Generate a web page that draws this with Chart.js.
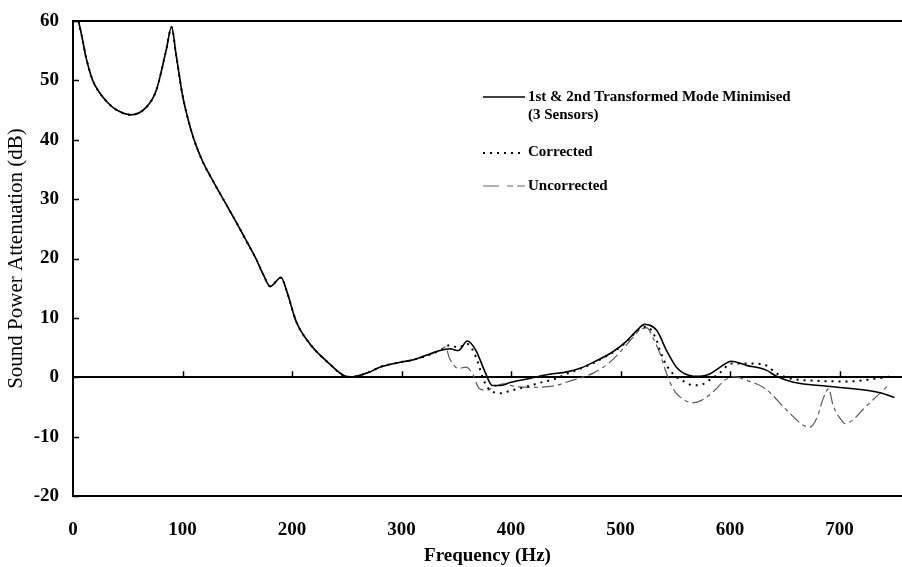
<!DOCTYPE html>
<html>
<head>
<meta charset="utf-8">
<script src="https://cdn.jsdelivr.net/npm/chart.js@4.4.1/dist/chart.umd.min.js"></script>
<style>
  html, body { margin: 0; padding: 0; background: #fff; }
  #wrap { width: 902px; height: 567px; }
</style>
</head>
<body>
<div id="wrap"><canvas id="attnChart" width="902" height="567"></canvas></div>
<script>
// shared part of all three curves (0 - 335 Hz)
const lowFreq = [5, 8, 12, 18, 24, 32, 40, 53, 67, 76, 85, 90, 94, 100, 105, 110, 118, 128, 139, 150, 160, 167, 174, 180, 190, 195, 204, 216, 234, 247, 254, 271, 280, 301, 310, 335];
const lowVals = [60, 57.5, 53.8, 50, 48, 46.2, 45, 44.2, 45.5, 48.3, 55, 59, 54.5, 47.5, 43.5, 40.3, 36.5, 33, 29.4, 25.8, 22.4, 20, 17.2, 15.3, 16.8, 14.6, 9.3, 5.7, 2.3, 0.3, 0.05, 0.9, 1.7, 2.6, 2.9, 4.5];

// 1st & 2nd transformed mode minimised (3 sensors)
const solidFreq = [344, 352, 360, 368, 376, 383, 390, 399, 417, 435, 451, 463, 475, 493, 505, 515, 522, 533, 542, 551, 563, 572, 581, 591, 601, 615, 633, 642, 657, 694, 737, 750];
const solidVals = [4.8, 4.5, 6.1, 4.5, 1.0, -1.4, -1.4, -0.9, -0.2, 0.5, 0.9, 1.5, 2.5, 4.3, 6.0, 7.9, 8.9, 7.9, 4.5, 1.7, 0.3, 0.15, 0.5, 1.7, 2.7, 2.0, 1.2, 0.2, -0.8, -1.6, -2.6, -3.4];

// corrected
const corrFreq = [344, 352, 360, 368, 374, 378, 384, 390, 399, 414, 429, 440, 451, 463, 475, 493, 505, 517, 524, 533, 536, 542, 551, 559, 566, 572, 581, 591, 601, 621, 633, 642, 655, 679, 709, 734, 749];
const corrVals = [5.4, 5.0, 5.6, 3.4, 0, -1.6, -2.5, -2.7, -2.3, -1.6, -0.8, -0.3, 0.6, 1.4, 2.4, 4.2, 5.9, 8.1, 8.5, 6.2, 4.5, 2.0, 0.05, -0.8, -1.35, -1.35, -0.5, 0.8, 2.3, 2.3, 2.0, 0.7, -0.2, -0.6, -0.7, -0.2, 0.2];

// uncorrected
const uncFreq = [340, 344, 352, 359, 365, 371, 378, 385, 393, 405, 419, 442, 451, 475, 490, 508, 518, 524, 530, 536, 540, 545, 550, 558, 566, 574, 586, 595, 603, 615, 632, 652, 667, 673, 680, 685, 690, 694, 703, 705, 712, 722, 738, 746];
const uncVals = [5.1, 3.1, 1.5, 1.7, 0.5, -1.9, -2.2, -1.6, -1.1, -1.6, -1.7, -1.35, -0.8, 0.7, 2.5, 6.0, 8.0, 8.3, 6.5, 4.0, 1.7, -0.8, -2.5, -3.8, -4.3, -3.9, -2.2, -0.5, 0.1, -0.5, -1.9, -5.6, -8.1, -8.4, -6.5, -3.6, -1.9, -4.7, -7.5, -7.8, -7.2, -5.3, -2.5, -1.1];

const xTicks = [0, 100, 200, 300, 400, 500, 600, 700];
const yTicks = [-20, -10, 0, 10, 20, 30, 40, 50, 60];

const seriesNames = ['1st & 2nd Transformed Mode Minimised', 'Corrected', 'Uncorrected'];

const SERIF = "'Liberation Serif', 'Times New Roman', serif";

function toPoints(fs, vs) {
    return fs.map((f, i) => ({ x: f, y: vs[i] }));
}

const solidPts = toPoints(lowFreq.concat(solidFreq), lowVals.concat(solidVals));
const corrPts = toPoints(lowFreq.concat(corrFreq), lowVals.concat(corrVals));
const uncPts = toPoints(lowFreq.concat(uncFreq), lowVals.concat(uncVals));

// inward tick marks: y ticks on the left axis, x ticks on the zero line
const innerTicks = {
    id: 'innerTicks',
    afterDraw(chart) {
        const ctx = chart.ctx;
        const xs = chart.scales.x, ys = chart.scales.y;
        const left = chart.chartArea.left;
        const y0 = ys.getPixelForValue(0);
        ctx.save();
        ctx.strokeStyle = '#000';
        ctx.lineWidth = 1.5;
        ctx.beginPath();
        yTicks.forEach(v => {
            const py = Math.round(ys.getPixelForValue(v)) + 0.5;
            ctx.moveTo(left, py);
            ctx.lineTo(left + 6, py);
        });
        xTicks.forEach(v => {
            if (v === 0) return;
            const px = Math.round(xs.getPixelForValue(v)) + 0.5;
            ctx.moveTo(px, y0);
            ctx.lineTo(px, y0 - 6);
        });
        ctx.stroke();
        ctx.restore();
    }
};

// legend drawn inside the plot, upper right
const insideLegend = {
    id: 'insideLegend',
    afterDraw(chart) {
        const ctx = chart.ctx;
        const x0 = 483, x1 = 525, tx = 528;
        ctx.save();
        ctx.fillStyle = '#000';
        ctx.textBaseline = 'middle';
        ctx.font = 'bold 15px ' + SERIF;

        ctx.strokeStyle = '#000';
        ctx.lineWidth = 1.6;
        ctx.setLineDash([]);
        ctx.beginPath(); ctx.moveTo(x0, 97); ctx.lineTo(x1, 97); ctx.stroke();
        ctx.fillText(seriesNames[0], tx, 97);
        ctx.fillText('(3 Sensors)', tx, 115);

        ctx.lineWidth = 2;
        ctx.setLineDash([2, 5]);
        ctx.beginPath(); ctx.moveTo(x0, 153); ctx.lineTo(x1, 153); ctx.stroke();
        ctx.fillText(seriesNames[1], tx, 152);

        ctx.strokeStyle = '#666';
        ctx.lineWidth = 1.2;
        ctx.setLineDash([16, 8, 6, 4]);
        ctx.beginPath(); ctx.moveTo(x0, 186); ctx.lineTo(x1, 186); ctx.stroke();
        ctx.fillText(seriesNames[2], tx, 186);
        ctx.restore();
    }
};

const ctx = document.getElementById('attnChart').getContext('2d');
new Chart(ctx, {
    type: 'line',
    data: {
        datasets: [
            {
                label: seriesNames[2],
                data: uncPts,
                borderColor: '#5a5a5a',
                borderWidth: 1.2,
                borderDash: [12, 4, 4, 4],
                pointRadius: 0,
                cubicInterpolationMode: 'monotone',
                order: 3
            },
            {
                label: seriesNames[1],
                data: corrPts,
                borderColor: '#000',
                borderWidth: 2,
                borderDash: [2, 5],
                pointRadius: 0,
                cubicInterpolationMode: 'monotone',
                order: 2
            },
            {
                label: seriesNames[0],
                data: solidPts,
                borderColor: '#000',
                borderWidth: 1.6,
                pointRadius: 0,
                cubicInterpolationMode: 'monotone',
                order: 1
            }
        ]
    },
    options: {
        responsive: false,
        animation: false,
        events: [],
        layout: { padding: { top: 21, right: 0, left: 0, bottom: 0 } },
        plugins: {
            legend: { display: false },
            tooltip: { enabled: false }
        },
        scales: {
            x: {
                type: 'linear',
                min: 0,
                max: 757,
                afterBuildTicks: scale => { scale.ticks = xTicks.map(v => ({ value: v })); },
                afterFit: scale => {
                    scale.height = 71;
                    scale.paddingLeft = 0;
                    scale.paddingRight = 0;
                },
                grid: { display: false, drawTicks: false },
                border: { display: true, color: '#000', width: 2 },
                ticks: {
                    color: '#000',
                    padding: 23,
                    maxRotation: 0,
                    font: { family: SERIF, size: 19, weight: 'bold' }
                },
                title: {
                    display: true,
                    text: 'Frequency (Hz)',
                    color: '#000',
                    padding: { top: 0, bottom: 0 },
                    font: { family: SERIF, size: 19, weight: 'bold' }
                }
            },
            y: {
                min: -20,
                max: 60,
                afterBuildTicks: scale => { scale.ticks = yTicks.map(v => ({ value: v })); },
                afterFit: scale => {
                    scale.width = 73;
                    scale.paddingTop = 0;
                    scale.paddingBottom = 0;
                },
                grid: {
                    drawTicks: false,
                    color: c => (c.tick && (c.tick.value === 0 || c.tick.value === 60)) ? '#000' : 'rgba(0,0,0,0)',
                    lineWidth: 2
                },
                border: { display: true, color: '#000', width: 2 },
                ticks: {
                    color: '#000',
                    padding: 14,
                    font: { family: SERIF, size: 19, weight: 'bold' }
                },
                title: {
                    display: true,
                    text: 'Sound Power Attenuation (dB)',
                    color: '#000',
                    padding: { top: 4, bottom: 0 },
                    font: { family: SERIF, size: 21 }
                }
            }
        }
    },
    plugins: [innerTicks, insideLegend]
});
</script>
</body>
</html>
